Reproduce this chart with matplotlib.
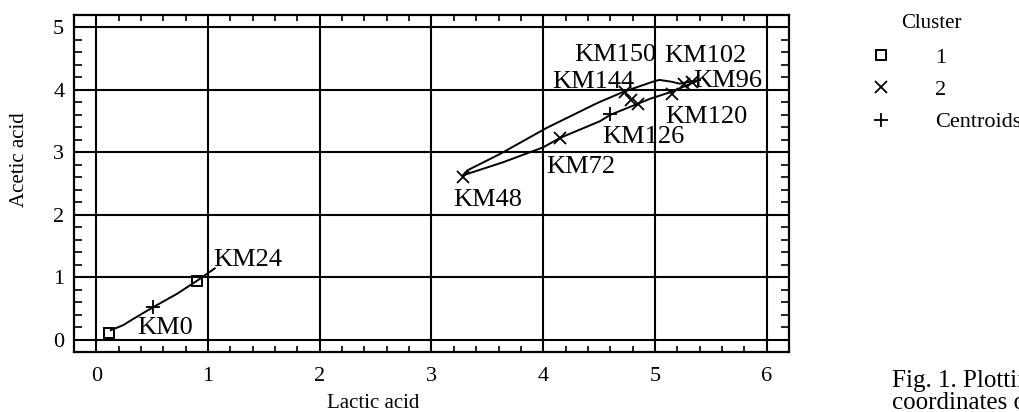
#!/usr/bin/env python3
import matplotlib as mpl
mpl.use('Agg')
import matplotlib.pyplot as plt
import numpy as np

plt.rcParams['font.family'] = ['Liberation Serif', 'DejaVu Serif']

# cluster 1 points
c1_names = ['KM0', 'KM24']
c1_x = [0.11, 0.90]
c1_y = [0.11, 0.945]

# cluster 2 points
c2_names = ['KM48', 'KM72', 'KM96', 'KM102', 'KM120', 'KM126', 'KM144', 'KM150']
c2_x = [3.28, 4.15, 5.33, 5.26, 5.15, 4.85, 4.73, 4.79]
c2_y = [2.61, 3.23, 4.13, 4.10, 3.93, 3.78, 3.97, 3.83]

# centroids
cen_x = [0.51, 4.60]
cen_y = [0.52, 3.61]

# connecting curves
c1_line_x = [0.13, 0.24, 0.33, 0.51, 0.72, 0.90, 1.06]
c1_line_y = [0.15, 0.23, 0.33, 0.52, 0.73, 0.94, 1.14]
c2_line_x = [5.40, 5.22, 5.15, 5.04, 4.98, 4.72, 4.51, 4.45, 4.03, 3.61, 3.32, 3.28,
             3.64, 4.00, 4.15, 4.51, 4.60, 4.96, 5.15, 5.40]
c2_line_y = [4.16, 4.10, 4.13, 4.16, 4.13, 3.97, 3.81, 3.76, 3.39, 2.97, 2.71, 2.63,
             2.84, 3.08, 3.23, 3.50, 3.60, 3.86, 3.97, 4.16]

# label anchor positions (left edge, vertical centre)
lab_pos = {
    'KM0': (0.37, 0.19), 'KM24': (1.05, 1.28), 'KM48': (3.19, 2.23),
    'KM72': (4.03, 2.76), 'KM126': (4.53, 3.24), 'KM120': (5.09, 3.56),
    'KM144': (4.08, 4.13), 'KM150': (4.28, 4.56), 'KM102': (5.08, 4.55),
    'KM96': (5.34, 4.14),
}

xticks = [0, 1, 2, 3, 4, 5, 6]
yticks = [0, 1, 2, 3, 4, 5]


def main():
    fig = plt.figure(figsize=(10.19, 4.12), dpi=100)
    ax = fig.add_axes([0.0726, 0.1456, 0.7017, 0.818])

    ax.plot(c1_line_x, c1_line_y, color='k', lw=1.4)
    ax.plot(c2_line_x, c2_line_y, color='k', lw=1.4)

    h1, = ax.plot(c1_x, c1_y, ls='none', marker='s', ms=7, mfc='none',
                  mec='k', mew=1.4, label='1')
    h2, = ax.plot(c2_x, c2_y, ls='none', marker='x', ms=9, color='k',
                  mew=1.3, label='2')
    h3, = ax.plot(cen_x, cen_y, ls='none', marker='+', ms=10, color='k',
                  mew=1.3, label='Centroids')

    for name in c1_names + c2_names:
        x, y = lab_pos[name]
        ax.text(x, y, name, fontsize=19, ha='left', va='center')

    ax.set_xlim(-0.2, 6.2)
    ax.set_ylim(-0.14, 5.14)
    ax.set_xticks(xticks)
    ax.set_yticks(yticks)
    ax.set_xticks(np.arange(-0.2, 6.21, 0.2), minor=True)
    ax.set_yticks(np.arange(-0.2, 5.21, 0.2), minor=True)
    ax.grid(True, which='major', color='k', lw=1.5)
    ax.tick_params(which='both', direction='in', top=True, right=True,
                   labelsize=16, width=1.2)
    ax.tick_params(which='major', length=0)
    ax.tick_params(axis='x', which='minor', length=4)
    ax.tick_params(axis='y', which='minor', length=6)
    ax.tick_params(axis='x', pad=11)
    ax.tick_params(axis='y', pad=7)
    for s in ax.spines.values():
        s.set_linewidth(1.6)

    fig.text(373 / 1019, 1 - 403 / 412, 'Lactic acid', fontsize=15,
             ha='center', va='center')
    fig.text(20 / 1019, 1 - 160 / 412, 'Acetic acid', fontsize=15,
             ha='center', va='center', rotation=90)

    # legend
    fig.text(931 / 1019, 1 - 24 / 412, 'Cluster', fontsize=15,
             ha='center', va='center')
    ax.legend(handles=[h1, h2, h3], frameon=False,
              loc='upper left', bbox_to_anchor=(868 / 1019, 1 - 47.5 / 412),
              bbox_transform=fig.transFigure, fontsize=16,
              handlelength=1.2, handletextpad=1.8,
              labelspacing=0.52, borderaxespad=0, borderpad=0)

    fig.text(892 / 1019, 1 - 381 / 412, 'Fig. 1. Plotting the',
             fontsize=18, ha='left', va='center')
    fig.text(892 / 1019, 1 - 403 / 412, 'coordinates of the',
             fontsize=18, ha='left', va='center')

    fig.savefig('out.png', dpi=100)


if __name__ == '__main__':
    main()
